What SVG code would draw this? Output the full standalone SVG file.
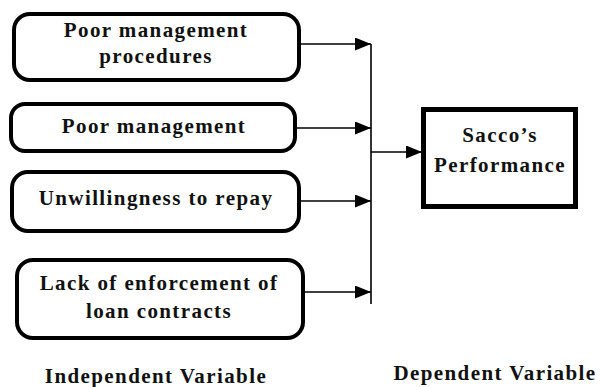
<svg xmlns="http://www.w3.org/2000/svg" width="602" height="387" viewBox="0 0 602 387">
<defs>
<marker id="ah" markerWidth="16" markerHeight="13" refX="16" refY="6.5" orient="auto" markerUnits="userSpaceOnUse">
<path d="M0,0 L16,6.5 L0,13 Z" fill="#000"/>
</marker>
<style>
.box{fill:#fff;stroke:#000;stroke-width:4}
.dep{fill:#fff;stroke:#000;stroke-width:5}
.t{font-family:'Liberation Serif','Times New Roman','DejaVu Serif',serif;font-weight:700;font-size:21px;letter-spacing:1.4px;fill:#111;text-anchor:middle}
.c{stroke:#000;stroke-width:1.6;fill:none}
</style>
</defs>
<rect width="602" height="387" fill="#fff"/>
<g id="n1">
<rect class="box" x="14" y="14" width="285" height="66" rx="16"/>
<text class="t" x="156" y="37">Poor management</text>
<text class="t" x="156" y="63">procedures</text>
</g>
<g id="n2">
<rect class="box" x="11" y="104" width="284" height="47" rx="14"/>
<text class="t" x="154" y="133">Poor management</text>
</g>
<g id="n3">
<rect class="box" x="12" y="172" width="287" height="59" rx="16"/>
<text class="t" x="156" y="205">Unwillingness to repay</text>
</g>
<g id="n4">
<rect class="box" x="17" y="260" width="286" height="78" rx="16"/>
<text class="t" x="159" y="290">Lack of enforcement of</text>
<text class="t" x="159" y="318">loan contracts</text>
</g>
<g id="n5">
<rect class="dep" x="423.5" y="109.5" width="152" height="97"/>
<text class="t" x="500" y="142">Sacco’s</text>
<text class="t" x="500" y="172">Performance</text>
</g>
<g id="labels">
<text class="t" x="156" y="383">Independent Variable</text>
<text class="t" x="495" y="380">Dependent Variable</text>
</g>
<g id="connectors">
<line class="c" x1="301" y1="44" x2="371" y2="44" marker-end="url(#ah)"/>
<line class="c" x1="297" y1="128" x2="371" y2="128" marker-end="url(#ah)"/>
<line class="c" x1="301" y1="201" x2="371" y2="201" marker-end="url(#ah)"/>
<line class="c" x1="305" y1="292" x2="371" y2="292" marker-end="url(#ah)"/>
<line class="c" x1="371" y1="44" x2="371" y2="304"/>
<line class="c" x1="371" y1="152" x2="422" y2="152" marker-end="url(#ah)"/>
</g>
</svg>
